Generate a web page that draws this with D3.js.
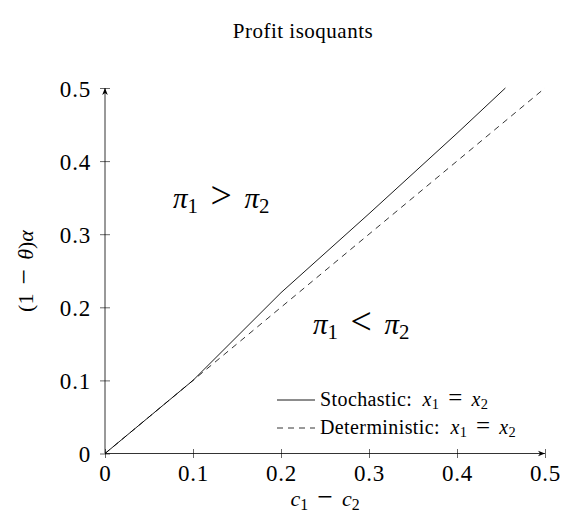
<!DOCTYPE html>
<html>
<head>
<meta charset="utf-8">
<script src="https://cdnjs.cloudflare.com/ajax/libs/d3/7.8.5/d3.min.js"></script>
<style>
  html, body { margin: 0; padding: 0; background: #fff; }
  svg text { font-family: "Liberation Serif", "DejaVu Serif", serif; fill: #000; }
</style>
</head>
<body>
<div id="chart"></div>
<script>
(function() {

  // data
  var xTicks = [0, 0.1, 0.2, 0.3, 0.4, 0.5];
  var yTicks = [0, 0.1, 0.2, 0.3, 0.4, 0.5];
  var stochX = [0, 0.05, 0.1, 0.2, 0.3, 0.4, 0.455];
  var stochY = [0, 0.05, 0.1, 0.22, 0.328, 0.438, 0.5];
  var detX = [0, 0.1, 0.2, 0.3, 0.4, 0.5];
  var detY = [0, 0.1, 0.2, 0.3, 0.4, 0.5];

  var width = 563;
  var height = 521;

  var xScale = d3.scaleLinear().domain([0, 0.5]).range([105, 545]);
  var yScale = d3.scaleLinear().domain([0, 0.5]).range([453.5, 88]);

  var svg = d3.select('#chart')
    .append('svg')
    .attr('width', width)
    .attr('height', height);

  svg.append('defs').append('marker')
    .attr('id', 'arrow')
    .attr('viewBox', '0 0 10 10')
    .attr('refX', 10)
    .attr('refY', 5)
    .attr('markerWidth', 7)
    .attr('markerHeight', 7)
    .attr('markerUnits', 'userSpaceOnUse')
    .attr('orient', 'auto')
    .append('path')
    .attr('d', 'M0,1 L10,5 L0,9 L3,5 Z')
    .attr('fill', '#000');

  function fmt(d) { return d === 0 ? '0' : d3.format('.1f')(d); }

  // x axis
  var xAxis = d3.axisBottom(xScale).tickValues(xTicks).tickFormat(fmt).tickSize(4.5).tickPadding(6);
  var gx = svg.append('g')
    .attr('transform', 'translate(0,' + yScale(0) + ')')
    .call(xAxis);
  gx.select('.domain').remove();
  gx.selectAll('.tick line').attr('y1', -4.5).attr('y2', 4.5).attr('stroke-width', 0.6);
  gx.selectAll('.tick text').style('font-size', '23px').style('letter-spacing', '0.8px').attr('dy', '0.72em');
  gx.append('line')
    .attr('x1', xScale(0)).attr('x2', xScale(0.5))
    .attr('stroke', '#000').attr('stroke-width', 0.8)
    .attr('marker-end', 'url(#arrow)');

  // y axis
  var yAxis = d3.axisLeft(yScale).tickValues(yTicks).tickFormat(fmt).tickSize(5).tickPadding(9);
  var gy = svg.append('g')
    .attr('transform', 'translate(' + xScale(0) + ',0)')
    .call(yAxis);
  gy.select('.domain').remove();
  gy.selectAll('.tick line').attr('x1', -5).attr('x2', 5).attr('stroke-width', 0.6);
  gy.selectAll('.tick text').style('font-size', '23px').style('letter-spacing', '0.8px').attr('dy', '0.35em');
  gy.append('line')
    .attr('y1', yScale(0)).attr('y2', yScale(0.5))
    .attr('stroke', '#000').attr('stroke-width', 0.8)
    .attr('marker-end', 'url(#arrow)');

  var line = d3.line()
    .x(function(d) { return xScale(d[0]); })
    .y(function(d) { return yScale(d[1]); });

  svg.append('path')
    .datum(detX.map(function(x, i) { return [x, detY[i]]; }))
    .attr('d', line)
    .attr('fill', 'none')
    .attr('stroke', '#000')
    .attr('stroke-width', 0.8)
    .attr('stroke-dasharray', '6,5');

  svg.append('path')
    .datum(stochX.map(function(x, i) { return [x, stochY[i]]; }))
    .attr('d', line)
    .attr('fill', 'none')
    .attr('stroke', '#000')
    .attr('stroke-width', 0.9);

  // math-ish text: parts [text, italic, sub, scale]
  function mathText(sel, parts, size) {
    parts.forEach(function(p) {
      var t = sel.append('tspan').text(p[0]);
      if (p[1]) t.style('font-style', 'italic');
      if (p[2]) t.style('font-size', (size * 0.72) + 'px').attr('baseline-shift', '-22%');
      if (p[3]) t.style('font-size', (size * p[3]) + 'px');
    });
  }

  var en = '\u2002';  // wide space
  var th = '\u2004';  // medium space

  // title
  svg.append('text')
    .attr('x', 303).attr('y', 38)
    .attr('text-anchor', 'middle')
    .style('font-size', '21px')
    .style('letter-spacing', '0.5px')
    .text('Profit isoquants');

  // axis labels
  mathText(svg.append('text')
    .attr('x', 325).attr('y', 506)
    .attr('text-anchor', 'middle')
    .style('font-size', '22px'),
    [['c', true], ['1', false, true], [th + '\u2212' + th, false, false, 1.25], ['c', true], ['2', false, true]], 22);

  mathText(svg.append('text')
    .attr('transform', 'translate(33,271) rotate(-90)')
    .attr('text-anchor', 'middle')
    .style('font-size', '22px'),
    [['(1', false], [th + '\u2212' + th, false, false, 1.25], ['\u03b8', true], [')', false], ['\u03b1', true]], 22);

  // region labels
  mathText(svg.append('text')
    .attr('x', 173).attr('y', 208)
    .style('font-size', '29px'),
    [['\u03c0', true], ['1', false, true], [th + '>' + th, false, false, 1.3], ['\u03c0', true], ['2', false, true]], 29);

  mathText(svg.append('text')
    .attr('x', 313).attr('y', 334)
    .style('font-size', '29px'),
    [['\u03c0', true], ['1', false, true], [th + '<' + th, false, false, 1.3], ['\u03c0', true], ['2', false, true]], 29);

  // legend
  var legend = svg.append('g');
  legend.append('line')
    .attr('x1', 277).attr('x2', 315).attr('y1', 400).attr('y2', 400)
    .attr('stroke', '#000').attr('stroke-width', 0.9);
  legend.append('line')
    .attr('x1', 277).attr('x2', 315).attr('y1', 428).attr('y2', 428)
    .attr('stroke', '#000').attr('stroke-width', 0.8)
    .attr('stroke-dasharray', '6,5');
  mathText(legend.append('text')
    .attr('x', 320).attr('y', 406)
    .style('font-size', '20px')
    .style('letter-spacing', '0.4px'),
    [['Stochastic:' + en, false], ['x', true], ['1', false, true], [th + '=' + th, false, false, 1.25], ['x', true], ['2', false, true]], 20);
  mathText(legend.append('text')
    .attr('x', 320).attr('y', 434)
    .style('font-size', '20px')
    .style('letter-spacing', '0.4px'),
    [['Deterministic:' + en, false], ['x', true], ['1', false, true], [th + '=' + th, false, false, 1.25], ['x', true], ['2', false, true]], 20);

})();
</script>
</body>
</html>
